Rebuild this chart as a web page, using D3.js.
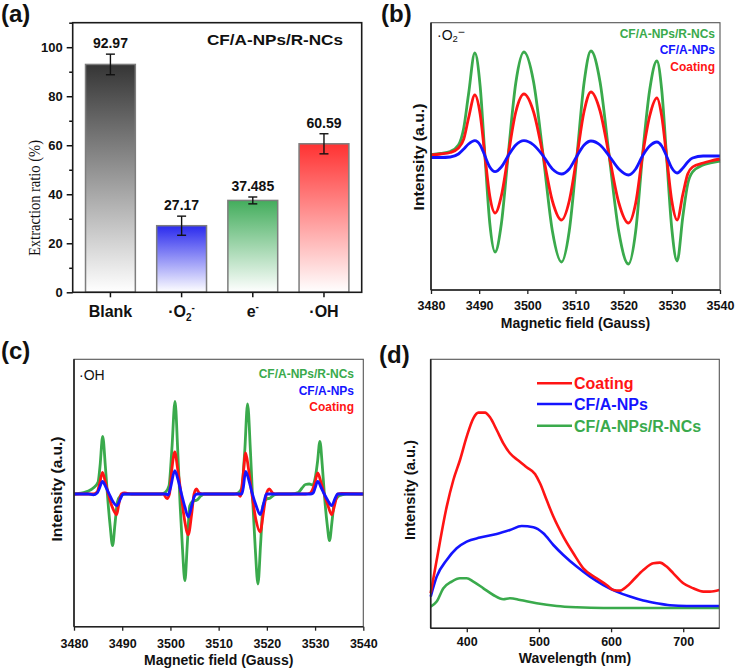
<!DOCTYPE html>
<html><head><meta charset="utf-8">
<script src="https://cdn.jsdelivr.net/npm/d3@7"></script>
<style>body{margin:0;background:#fff}svg{display:block}text{font-family:"Liberation Sans",Arial,sans-serif}</style>
</head><body><svg id="chart" width="738" height="672"></svg>
<script>
// ---------- Panel (a) data ----------
const catA = ["Blank", "O2", "e", "OH"];
const valA = [92.97, 27.17, 37.485, 60.59];
const errA = [4.2, 3.9, 1.4, 4.1];
const valLabelA = ["92.97", "27.17", "37.485", "60.59"];
const yTicksA = [0, 20, 40, 60, 80, 100];
const yMinorA = [10, 30, 50, 70, 90, 110];
// ---------- Panel (b) data: field (G) vs intensity (a.u.) ----------
const bField = [3480,3482,3484,3485.7,3486.8,3487.8,3489.1,3490.2,3491.2,3492.2,3493.3,3494.6,3496,3497.6,3499.3,3501.3,3503.3,3505.2,3507.1,3508.7,3510.3,3511.8,3513.2,3515.1,3517,3519,3521,3522.5,3523.9,3525.4,3526.9,3527.9,3528.9,3530,3531.1,3532.3,3533.3,3534.3,3536.5,3538,3540];
const bGreen = [1.3,2.5,4.5,11,28,62,103,70,0,-67,-96,-68,0,73,104,74,0,-75,-106,-75,0,74,105,74,0,-76,-108,-75,0,66,95,66,0,-73,-105,-60,-28,-16,-9,-7,-5];
const bRed = [1,2,3.5,8,17,38,61,42,0,-40,-57,-40,0,44,62,44,0,-45,-64,-45,0,45,64,45,0,-47,-67,-47,0,40,58,40,0,-45,-64,-38,-18,-11,-7,-5,-3];
const bBlue = [-1.5,-1.5,-1,2,7,12,15.3,11,0,-11,-15.7,-11,0,11,15.3,11,0,-13,-18,-13,0,11,15,11,0,-13,-19,-13,0,10,14,10,0,-12,-17,-12,-6,-2,0,0,0];
const fieldTicks = [3480, 3490, 3500, 3510, 3520, 3530, 3540];
// ---------- Panel (c) data ----------
const cGreen = [[3480,0],[3481,0.5],[3482,1.5],[3483,3],[3484,6],[3485,12],[3485.4,28],[3485.95,57.7],[3486.5,28],[3487,-5],[3487.5,-32],[3488,-51.7],[3488.5,-30],[3489,-8],[3489.6,-2],[3490.5,0],[3495,0],[3498,0],[3499,2],[3499.7,8],[3500.3,45],[3500.95,92.7],[3501.5,45],[3502,-10],[3502.5,-55],[3503,-86.7],[3503.5,-50],[3504,-12],[3504.7,-7],[3505.5,-6],[3506.3,-2],[3507,0],[3510,0],[3513,0],[3514,1],[3514.8,6],[3515.4,42],[3516,90],[3516.6,42],[3517.1,-10],[3517.6,-55],[3518.15,-90],[3518.7,-50],[3519.2,-12],[3519.9,-5],[3520.7,-4],[3521.5,-1],[3522.5,0],[3525,0],[3526.5,1.5],[3527.3,6],[3528,9.5],[3528.8,10],[3529.5,9],[3530.1,18],[3530.5,32],[3531,52.7],[3531.5,28],[3532,-5],[3532.5,-30],[3533,-46.7],[3533.5,-28],[3534,-8],[3534.7,-3],[3535.5,-1],[3536.5,0],[3540,0]];
const cRed = [[3480,0],[3484,0],[3484.8,2],[3485.3,10],[3485.9,21.7],[3486.5,12],[3487.1,0],[3487.7,-10],[3488.3,-17],[3488.85,-20.7],[3489.3,-10],[3489.8,0],[3490.5,1],[3492,0],[3498.5,0],[3499.3,-4.7],[3499.8,0],[3500.3,25],[3500.9,42],[3501.5,25],[3502.2,0],[3502.9,-25],[3503.7,-40.7],[3504.4,-20],[3504.9,0],[3505.4,5],[3506,1],[3507,0],[3514,0],[3514.5,-2.3],[3515,15],[3515.6,41],[3516.2,25],[3516.9,0],[3517.7,-25],[3518.6,-38],[3519.3,-18],[3519.9,0],[3520.5,5],[3521.2,1],[3522,0],[3528,0],[3529,1],[3529.9,10],[3530.55,21],[3531.2,12],[3531.9,0],[3532.7,-12],[3533.45,-20.7],[3534.1,-10],[3534.7,0],[3535.5,0.5],[3540,0]];
const cBlue = [[3480,0],[3483,0],[3484,-0.8],[3484.8,1],[3485.3,6],[3485.9,12.7],[3486.6,7],[3487.3,0],[3488,-7],[3488.9,-11.7],[3489.6,-5],[3490.2,0],[3499,0],[3499.5,-1],[3500,6],[3500.9,23.3],[3501.6,14],[3502.3,0],[3503,-13],[3503.7,-23],[3504.4,-12],[3505,-2],[3505.5,0],[3514,0],[3514.8,0],[3515.1,6],[3515.6,22.7],[3516.3,13],[3517,0],[3517.8,-12],[3518.6,-20.7],[3519.3,-10],[3519.9,0],[3529,0],[3529.6,1],[3530,6],[3530.55,12.7],[3531.2,7],[3531.9,0],[3532.7,-7],[3533.45,-11.7],[3534.1,-5],[3534.7,0],[3540,0]];
// ---------- Panel (d) data: wavelength (nm) vs PL intensity (a.u.) ----------
const dRed = [[350,35],[358.3,68.3],[372.2,121.7],[381.4,148.3],[390.6,168.3],[399.9,191.7],[409.1,210],[416.1,215.7],[425.3,215.7],[432.2,211],[441.5,198.3],[450.7,185],[459.9,175],[471.5,167.7],[483,161],[494.6,154.3],[501.5,145],[510.7,128.3],[520,111.7],[533.8,91.7],[547.7,75],[561.5,60],[580,50],[593.9,43.3],[603.1,38.3],[612.4,37.7],[621.6,41.7],[630.8,48.3],[644.7,58.3],[658.5,65],[667.8,65.7],[677,61.7],[686.3,55],[700.1,45],[714,40],[727.8,36.7],[737.1,36.7],[750,38.3]];
const dBlue = [[350,31.7],[358.3,51.7],[372.2,68.3],[386,80],[399.9,86.7],[418.4,90.7],[441.5,94.3],[459.9,98.3],[476.1,102.3],[492.3,101],[506.1,95],[520,83.3],[533.8,73.3],[552.3,61.7],[570.8,51.7],[589.3,43.3],[607.7,36.7],[626.2,31.7],[644.7,27.7],[663.2,25],[681.6,23],[704.7,22.3],[727.8,22.3],[750,22.3]];
const dGreen = [[350,21.7],[358.3,26.7],[367.6,40],[379.1,46.7],[390.6,50],[399.9,50],[409.1,46.7],[423,40],[436.8,33.3],[450.7,29],[459.9,30],[473.8,28.3],[496.9,25],[524.6,22.3],[552.3,21],[589.3,20.3],[635.5,20.3],[750,20.3]];
const wlTicks = [400, 500, 600, 700];
const seriesNames = ["CF/A-NPs/R-NCs", "CF/A-NPs", "Coating"];

const GREEN = "#3aaa4c", BLUE = "#1414ff", RED = "#ff1414";
const svg = d3.select("#chart");
const defs = svg.append("defs");

// ======== Panel (a) ========
const A = {l: 72.7, r: 361.7, t: 22.7, b: 292.3};
const xA = d3.scaleBand().domain(catA).range([A.l, A.r]).paddingInner(0.3).paddingOuter(0.18);
const yA = d3.scaleLinear().domain([0, 110]).range([A.b, A.t]);
const topCols = ["#353535", "#2a2aee", "#43ad5c", "#ff3232"];
topCols.forEach((c, i) => {
  const g = defs.append("linearGradient").attr("id", "ga" + i).attr("x1", 0).attr("y1", 0).attr("x2", 0).attr("y2", 1);
  g.append("stop").attr("offset", 0).attr("stop-color", c);
  g.append("stop").attr("offset", 1).attr("stop-color", "#ffffff");
});
const gA = svg.append("g");
gA.selectAll("rect.bar").data(catA).join("rect").attr("class", "bar")
  .attr("x", d => xA(d)).attr("width", xA.bandwidth())
  .attr("y", (d, i) => yA(valA[i])).attr("height", (d, i) => A.b - yA(valA[i]))
  .attr("fill", (d, i) => `url(#ga${i})`).attr("stroke", "#7d7d7d").attr("stroke-width", 1.5);
catA.forEach((d, i) => {
  const cx = xA(d) + xA.bandwidth() / 2;
  const y1 = yA(valA[i] - errA[i]), y2 = yA(valA[i] + errA[i]);
  gA.append("line").attr("x1", cx).attr("x2", cx).attr("y1", y1).attr("y2", y2).attr("stroke", "#111").attr("stroke-width", 1.4);
  [y1, y2].forEach(y => gA.append("line").attr("x1", cx - 4.5).attr("x2", cx + 4.5).attr("y1", y).attr("y2", y).attr("stroke", "#111").attr("stroke-width", 1.4));
  gA.append("text").attr("x", cx).attr("y", y2 - 6).attr("text-anchor", "middle")
    .attr("font-size", 14).attr("font-weight", "bold").attr("fill", "#111").text(valLabelA[i]);
});
// axes (a)
const axYA = gA.append("g").attr("transform", `translate(${A.l},0)`)
  .call(d3.axisLeft(yA).tickValues(yTicksA).tickSize(6).tickSizeOuter(0).tickFormat(d3.format("d")));
axYA.selectAll("text").attr("font-size", 13).attr("font-weight", "bold").attr("fill", "#111").attr("dx", -1);
gA.append("g").attr("transform", `translate(${A.l},0)`)
  .call(d3.axisLeft(yA).tickValues(yMinorA).tickSize(3.5).tickSizeOuter(0).tickFormat(""));
const axXA = gA.append("g").attr("transform", `translate(0,${A.b})`)
  .call(d3.axisBottom(xA).tickSize(5).tickSizeOuter(0).tickFormat(""));
gA.selectAll(".tick line").attr("stroke", "#111").attr("stroke-width", 1.5);
gA.selectAll(".domain").remove();
// x labels with sub/superscripts
const xlab = gA.append("g").attr("font-size", 16).attr("font-weight", "bold").attr("fill", "#111");
function xLabel(cat, x) {
  const t = xlab.append("text").attr("x", x).attr("y", 317).attr("text-anchor", "middle");
  if (cat === "Blank") t.text("Blank");
  if (cat === "O2") { t.append("tspan").text("·O"); t.append("tspan").attr("font-size", 10).attr("dy", 4).text("2"); t.append("tspan").attr("font-size", 10).attr("dy", -10).text("-"); }
  if (cat === "e") { t.append("tspan").text("e"); t.append("tspan").attr("font-size", 10).attr("dy", -7).text("-"); }
  if (cat === "OH") t.text("·OH");
}
catA.forEach(d => xLabel(d, xA(d) + xA.bandwidth() / 2));
gA.append("rect").attr("x", A.l).attr("y", A.t).attr("width", A.r - A.l).attr("height", A.b - A.t)
  .attr("fill", "none").attr("stroke", "#1a1a1a").attr("stroke-width", 1.6);
gA.append("text").attr("transform", `translate(40,198) rotate(-90)`).attr("text-anchor", "middle")
  .style("font-family", '"Liberation Serif","Times New Roman",serif').attr("font-size", 17.5)
  .attr("textLength", 116).attr("lengthAdjust", "spacingAndGlyphs").attr("fill", "#111").text("Extraction ratio (%)");
gA.append("text").attr("x", 343).attr("y", 45).attr("text-anchor", "end").attr("font-size", 15)
  .attr("font-weight", "bold").attr("fill", "#111").attr("textLength", 136).attr("lengthAdjust", "spacingAndGlyphs").text("CF/A-NPs/R-NCs");

// ======== generic frame for (b)(c)(d) ========
function frame(P, g) {
  g.append("rect").attr("x", P.l).attr("y", P.t).attr("width", P.r - P.l).attr("height", P.b - P.t)
    .attr("fill", "none").attr("stroke", "#555").attr("stroke-width", 1.1);
  g.append("line").attr("x1", P.l).attr("x2", P.l).attr("y1", P.t).attr("y2", P.b).attr("stroke", "#222").attr("stroke-width", 1.6);
  g.append("line").attr("x1", P.l).attr("x2", P.r).attr("y1", P.b).attr("y2", P.b).attr("stroke", "#222").attr("stroke-width", 1.6);
}
function xAxis(g, P, x, ticks, labelY, title, titleY) {
  const ax = g.append("g").attr("transform", `translate(0,${P.b})`)
    .call(d3.axisBottom(x).tickValues(ticks).tickSize(4).tickSizeOuter(0).tickPadding(6).tickFormat(d3.format("d")));
  ax.select(".domain").remove();
  ax.selectAll(".tick line").attr("stroke", "#222").attr("stroke-width", 1.3);
  ax.selectAll("text").attr("font-size", 12.5).attr("font-weight", "bold").attr("fill", "#111")
    .attr("dy", null).attr("y", labelY - P.b);
  g.append("text").attr("x", (P.l + P.r) / 2).attr("y", titleY).attr("text-anchor", "middle")
    .attr("font-size", 14).attr("font-weight", "bold").attr("fill", "#111").text(title);
}
function yTitle(g, x, y, len) {
  g.append("text").attr("transform", `translate(${x},${y}) rotate(-90)`).attr("text-anchor", "middle")
    .attr("font-size", 14.5).attr("font-weight", "bold").attr("fill", "#111")
    .attr("textLength", len).attr("lengthAdjust", "spacingAndGlyphs").text("Intensity (a.u.)");
}

// ======== Panel (b) ========
const B = {l: 431, r: 720, t: 22.7, b: 290};
const xB = d3.scaleLinear().domain([3480, 3540]).range([B.l, B.r]);
const yB = d3.scaleLinear().domain([-134, 133.3]).range([B.b, B.t]);
const gB = svg.append("g");
const lineB = d3.line().x(d => xB(d[0])).y(d => yB(d[1])).curve(d3.curveMonotoneX);
[[bGreen, GREEN], [bRed, RED], [bBlue, BLUE]].forEach(([arr, col]) => {
  gB.append("path").datum(bField.map((f, i) => [f, arr[i]])).attr("d", lineB)
    .attr("fill", "none").attr("stroke", col).attr("stroke-width", 2.8).attr("stroke-linejoin", "round");
});
frame(B, gB);
xAxis(gB, B, xB, fieldTicks, 310, "Magnetic field (Gauss)", 328);
yTitle(gB, 424, 157, 107);
[[seriesNames[0], GREEN, 37.5], [seriesNames[1], BLUE, 54], [seriesNames[2], RED, 70.5]].forEach(([t, c, y]) =>
  gB.append("text").attr("x", 715).attr("y", y).attr("text-anchor", "end").attr("font-size", 12)
    .attr("font-weight", "bold").attr("fill", c).text(t));
{
  const t = gB.append("text").attr("x", 437).attr("y", 39.5).attr("font-size", 14).attr("fill", "#111");
  t.append("tspan").text("·O");
  t.append("tspan").attr("font-size", 9.5).attr("dy", 2).text("2");
  t.append("tspan").attr("font-size", 12).attr("dy", -6).text("−");
}

// ======== Panel (c) ========
const C = {l: 74, r: 363.3, t: 359.3, b: 626.7};
const xC = d3.scaleLinear().domain([3480, 3540]).range([C.l, C.r]);
const yC = d3.scaleLinear().domain([-132.7, 134.7]).range([C.b, C.t]);
const gC = svg.append("g");
const lineC = d3.line().x(d => xC(d[0])).y(d => yC(d[1])).curve(d3.curveMonotoneX);
[[cGreen, GREEN], [cRed, RED], [cBlue, BLUE]].forEach(([arr, col]) => {
  gC.append("path").datum(arr).attr("d", lineC)
    .attr("fill", "none").attr("stroke", col).attr("stroke-width", 2.8).attr("stroke-linejoin", "round");
});
frame(C, gC);
xAxis(gC, C, xC, fieldTicks, 648, "Magnetic field (Gauss)", 665);
yTitle(gC, 62, 489, 105);
[[seriesNames[0], GREEN, 377.5], [seriesNames[1], BLUE, 395], [seriesNames[2], RED, 411]].forEach(([t, c, y]) =>
  gC.append("text").attr("x", 354).attr("y", y).attr("text-anchor", "end").attr("font-size", 12)
    .attr("font-weight", "bold").attr("fill", c).text(t));
gC.append("text").attr("x", 79).attr("y", 380).attr("font-size", 14).attr("fill", "#111").text("·OH");

// ======== Panel (d) ========
const D = {l: 430.7, r: 719.3, t: 359.3, b: 628.3};
const xD = d3.scaleLinear().domain([350, 750]).range([D.l, D.r]);
const yD = d3.scaleLinear().domain([0, 269]).range([D.b, D.t]);
const gD = svg.append("g");
const lineD = d3.line().x(d => xD(d[0])).y(d => yD(d[1])).curve(d3.curveMonotoneX);
[[dGreen, GREEN], [dBlue, BLUE], [dRed, RED]].forEach(([arr, col]) => {
  gD.append("path").datum(arr).attr("d", lineD)
    .attr("fill", "none").attr("stroke", col).attr("stroke-width", 2.6).attr("stroke-linejoin", "round");
});
frame(D, gD);
xAxis(gD, D, xD, wlTicks, 646.5, "Wavelength (nm)", 663);
yTitle(gD, 415, 490, 100);
[[seriesNames[2], RED, 383.3], [seriesNames[1], BLUE, 404], [seriesNames[0], GREEN, 425.7]].forEach(([t, c, y]) => {
  gD.append("line").attr("x1", 537).attr("x2", 572).attr("y1", y).attr("y2", y).attr("stroke", c).attr("stroke-width", 2.6);
  gD.append("text").attr("x", 574).attr("y", y + 5.8).attr("font-size", 16).attr("font-weight", "bold").attr("fill", c).text(t);
});

// ======== panel letters ========
[["(a)", 1, 22], ["(b)", 381, 22], ["(c)", 1, 359], ["(d)", 379, 363]].forEach(([t, x, y]) =>
  svg.append("text").attr("x", x).attr("y", y).attr("font-size", 24).attr("font-weight", "bold").attr("fill", "#111").text(t));
</script></body></html>
